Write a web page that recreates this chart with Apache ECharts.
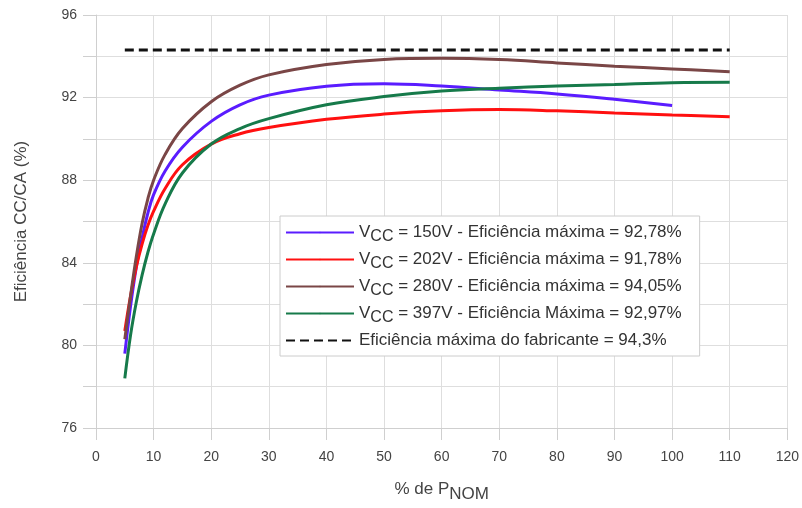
<!DOCTYPE html>
<html>
<head>
<meta charset="utf-8">
<script src="https://cdn.jsdelivr.net/npm/echarts@6/dist/echarts.min.js"></script>
<style>html,body{margin:0;padding:0;background:#fff}#c{width:802px;height:508px}</style>
</head>
<body>
<div id="c"></div>
<script>
// X values (% de P_NOM)
var x150 = [5, 6, 7, 8, 9, 10, 12, 15, 20, 25, 30, 40, 50, 60, 70, 80, 90, 100];
var xOther = [5, 6, 7, 8, 9, 10, 12, 15, 20, 25, 30, 40, 50, 60, 70, 80, 90, 100, 110];
// Efficiency values (%)
var eff150 = [79.6, 81.9, 83.8, 85.2, 86.4, 87.3, 88.45, 89.6, 90.85, 91.65, 92.12, 92.55, 92.67, 92.56, 92.37, 92.18, 91.92, 91.62];
var eff202 = [80.7, 82.4, 83.8, 84.9, 85.8, 86.5, 87.6, 88.75, 89.75, 90.25, 90.55, 90.95, 91.2, 91.36, 91.42, 91.36, 91.26, 91.16, 91.07];
var eff280 = [80.3, 82.4, 84.3, 85.9, 87.1, 88.0, 89.25, 90.5, 91.8, 92.6, 93.1, 93.6, 93.85, 93.9, 93.84, 93.68, 93.52, 93.39, 93.25];
var eff397 = [78.4, 80.5, 82.1, 83.4, 84.5, 85.4, 86.85, 88.35, 89.75, 90.5, 90.98, 91.65, 92.05, 92.32, 92.45, 92.56, 92.64, 92.72, 92.74];
var xFab = [5, 110];
var effFab = [94.3, 94.3];
// Legend labels
var legendNames = ['150V', '202V', '280V', '397V', 'fab'];
var legendTexts = {
  '150V': 'V{s|CC} = 150V - Eficiência máxima = 92,78%',
  '202V': 'V{s|CC} = 202V - Eficiência máxima = 91,78%',
  '280V': 'V{s|CC} = 280V - Eficiência máxima = 94,05%',
  '397V': 'V{s|CC} = 397V - Eficiência Máxima = 92,97%',
  'fab': 'Eficiência máxima do fabricante = 94,3%'
};

function pairs(xs, ys) { return xs.map(function (x, i) { return [x, ys[i]]; }); }

var FONT = '"Liberation Sans", Arial, sans-serif';
var chart = echarts.init(document.getElementById('c'), null, { renderer: 'canvas' });

function lineSeries(name, xs, ys, color) {
  return {
    name: name, type: 'line', data: pairs(xs, ys),
    symbol: 'none', smooth: 0.4,
    lineStyle: { color: color, width: 3 }, itemStyle: { color: color },
    z: 3
  };
}

chart.setOption({
  animation: false,
  backgroundColor: '#fff',
  grid: { left: 96, width: 692, top: 15, height: 421, containLabel: false },
  xAxis: {
    type: 'value', min: 0, max: 120, interval: 10,
    name: '% de P{s|NOM}', nameLocation: 'middle', nameGap: 48,
    nameTextStyle: { fontFamily: FONT, fontSize: 17, color: '#444',
      rich: { s: { fontFamily: FONT, fontSize: 17, color: '#444', padding: [10, 0, 0, 0] } } },
    axisLine: { show: true, lineStyle: { color: '#cfcfcf', width: 1 } },
    axisTick: { show: true, length: 12, lineStyle: { color: '#cfcfcf' } },
    axisLabel: { fontFamily: FONT, fontSize: 14, color: '#444', margin: 22 },
    splitLine: { show: true, lineStyle: { color: '#dedede', width: 1 } }
  },
  yAxis: {
    type: 'value', min: 76, max: 96, interval: 2,
    name: 'Eficiência CC/CA (%)', nameLocation: 'middle', nameGap: 66,
    nameTextStyle: { fontFamily: FONT, fontSize: 17, color: '#444' },
    axisLine: { show: true, lineStyle: { color: '#cfcfcf', width: 1 } },
    axisTick: { show: true, length: 13, lineStyle: { color: '#cfcfcf' } },
    axisLabel: {
      fontFamily: FONT, fontSize: 14, color: '#444', margin: 19,
      formatter: function (v) { return ((v - 76) % 4 === 0) ? String(v) : ''; }
    },
    splitLine: { show: true, lineStyle: { color: '#dedede', width: 1 } }
  },
  legend: {
    data: legendNames,
    orient: 'vertical', left: 280, top: 216,
    padding: [8, 18, 7, 5],
    itemWidth: 68, itemHeight: 2, itemGap: 6,
    backgroundColor: '#fff', borderColor: '#cccccc', borderWidth: 1,
    formatter: function (n) { return legendTexts[n]; },
    textStyle: {
      fontFamily: FONT, fontSize: 17, color: '#333',
      rich: { s: { fontFamily: FONT, fontSize: 16, color: '#333', padding: [9, 0, 0, 0] } }
    }
  },
  series: [
    lineSeries('150V', x150, eff150, '#5a1cff'),
    lineSeries('202V', xOther, eff202, '#ff1010'),
    lineSeries('280V', xOther, eff280, '#7a4646'),
    lineSeries('397V', xOther, eff397, '#167a4a'),
    {
      name: 'fab', type: 'line', data: pairs(xFab, effFab), symbol: 'none',
      lineStyle: { color: '#111', width: 3, type: [9, 5] }, itemStyle: { color: '#111' }, z: 4
    }
  ]
});
</script>
</body>
</html>
